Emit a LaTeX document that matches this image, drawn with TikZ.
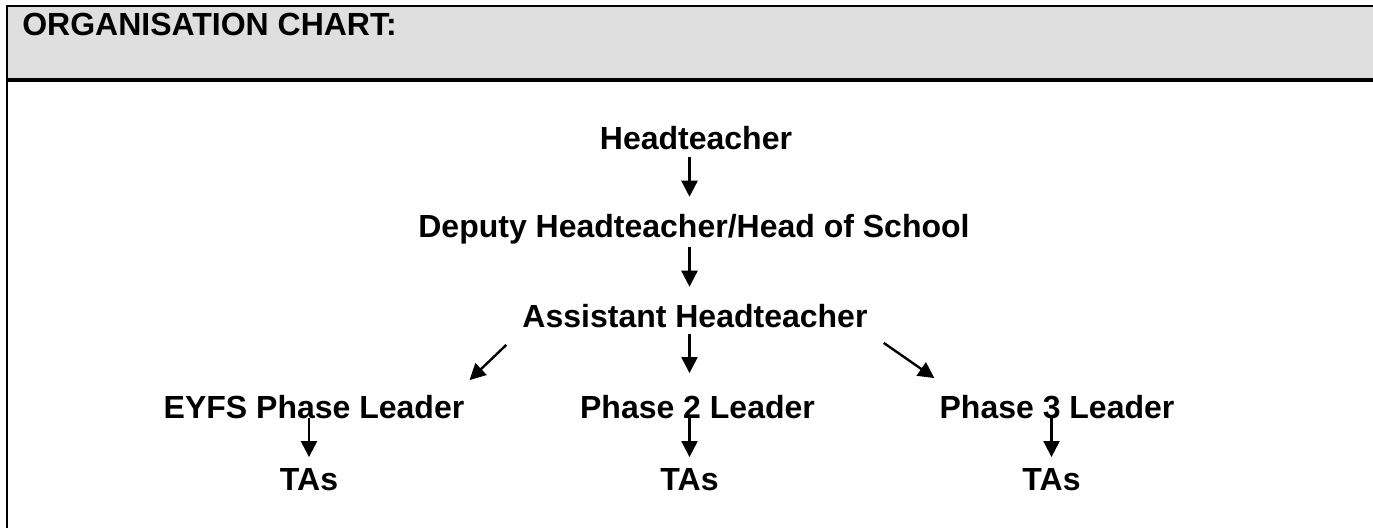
\documentclass[tikz,border=0pt]{standalone}
\usepackage{fontspec}
\setmainfont{Liberation Sans}
\usetikzlibrary{arrows.meta}

\tikzset{
  post/.style={font=\bfseries\fontsize{24}{28}\selectfont, inner sep=0pt,
    text height=17pt, text depth=5pt, anchor=base},
  arr/.style={line width=1.8pt, -{Triangle[length=12pt,width=12pt]}}
}

\begin{document}
\begin{tikzpicture}[x=0.75pt,y=-0.75pt]
        \useasboundingbox (0,0) rectangle (1373,528);
        % header band
        \fill[gray!25] (7,6) rectangle (1373,80);
        \draw[line width=1.8pt] (1373,6) -- (7,6) -- (7,528);
        \draw[line width=2.4pt] (7,80) -- (1373,80);
        \node[post, anchor=base west] (title) at (22,36) {ORGANISATION CHART:};
        % chart
        \node[post] (head) at (696,149) {Headteacher};
        \node[post] (deputy) at (694,237) {Deputy Headteacher/Head of School};
        \node[post] (asst) at (695,327) {Assistant Headteacher};
        \node[post] (eyfs) at (314,418) {EYFS Phase Leader};
        \node[post] (phase2) at (697.5,418) {Phase 2 Leader};
        \node[post] (phase3) at (1057,418) {Phase 3 Leader};
        \node[post] (tas1) at (309,490) {TAs};
        \node[post] (tas2) at (689.5,490) {TAs};
        \node[post] (tas3) at (1051.5,490) {TAs};
        \draw[arr, shorten <=0.5pt, shorten >=13pt] (head.south -| tas2) -- (deputy.north -| tas2);
        \draw[arr, shorten <=2.5pt, shorten >=13pt] (deputy.south -| tas2) -- (asst.north -| tas2);
        \draw[arr, shorten >=16.5pt] (asst.south -| tas2) -- (phase2.north -| tas2);
        \draw[arr] ([shift={(-16,11)}]asst.south west) -- ([shift={(5,-15)}]eyfs.north east);
        \draw[arr] ([shift={(16,9)}]asst.south east) -- ([shift={(-5,-17)}]phase3.north west);
        \draw[arr, shorten >=7.5pt] (eyfs.base -| tas1) -- (tas1.north);
        \draw[arr, shorten >=7.5pt] (phase2.base -| tas2) -- (tas2.north);
        \draw[arr, shorten >=7.5pt] (phase3.base -| tas3) -- (tas3.north);
    \end{tikzpicture}
\end{document}
